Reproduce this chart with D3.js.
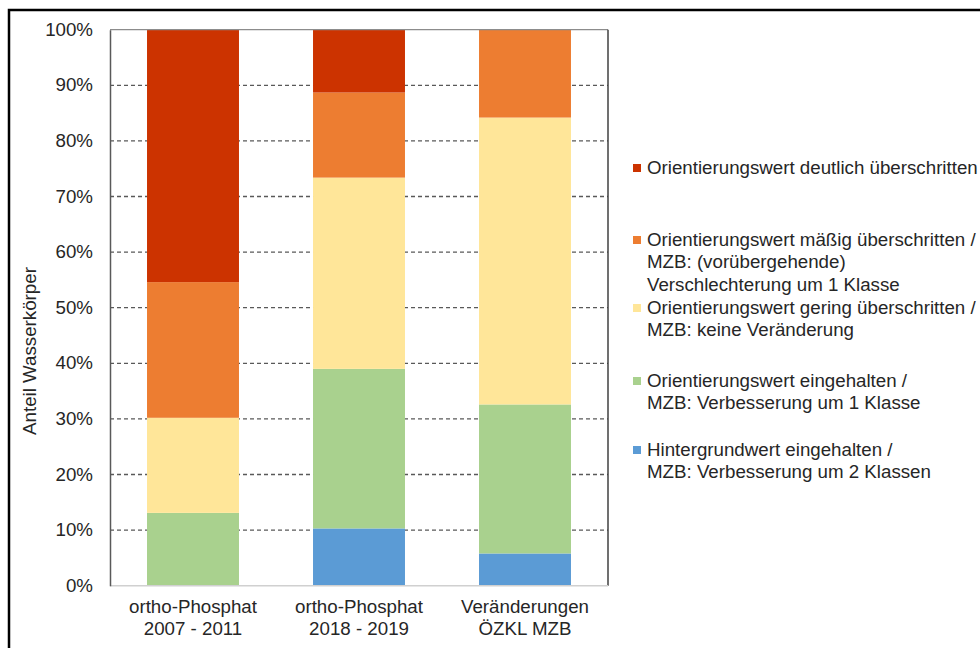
<!DOCTYPE html>
<html>
<head>
<meta charset="utf-8">
<script src="https://cdn.jsdelivr.net/npm/d3@7"></script>
<style>
  html, body { margin: 0; padding: 0; background: #fff; }
  svg { display: block; font-family: Arial, "Liberation Sans", sans-serif; }
</style>
</head>
<body>
<svg id="chart" width="980" height="648"></svg>
<script>
// Categories (two-line labels on the x axis)
const categories = [
  ["ortho-Phosphat", "2007 - 2011"],
  ["ortho-Phosphat", "2018 - 2019"],
  ["Veränderungen", "ÖZKL MZB"]
];

// Stack series, bottom to top, shares in percent per category
const seriesNames = [
  "Hintergrundwert eingehalten / MZB: Verbesserung um 2 Klassen",
  "Orientierungswert eingehalten / MZB: Verbesserung um 1 Klasse",
  "Orientierungswert gering überschritten / MZB: keine Veränderung",
  "Orientierungswert mäßig überschritten / MZB: (vorübergehende) Verschlechterung um 1 Klasse",
  "Orientierungswert deutlich überschritten"
];
const blau  = [0.0, 10.3, 5.8];
const gruen = [13.1, 28.7, 26.8];
const gelb  = [17.1, 34.4, 51.6];
const orange = [24.4, 15.3, 15.8];
const rot   = [45.4, 11.3, 0.0];
const seriesValues = [blau, gruen, gelb, orange, rot];
const seriesColors = ["#5b9bd5", "#a9d18e", "#ffe699", "#ed7d31", "#cc3300"];

// Legend entries, top to bottom, with their wrapped lines
const legendLines = [
  ["Orientierungswert deutlich überschritten"],
  ["Orientierungswert mäßig überschritten /", "MZB: (vorübergehende)", "Verschlechterung um 1 Klasse"],
  ["Orientierungswert gering überschritten /", "MZB: keine Veränderung"],
  ["Orientierungswert eingehalten /", "MZB: Verbesserung um 1 Klasse"],
  ["Hintergrundwert eingehalten /", "MZB: Verbesserung um 2 Klassen"]
];
const legendSeriesIndex = [4, 3, 2, 1, 0];
const legendTop = [168, 240, 308, 381, 450];

const yTicks = [0, 10, 20, 30, 40, 50, 60, 70, 80, 90, 100];

const svg = d3.select("#chart");
const textColor = "#262626";
const fontSize = "17.5px";
const widen = 1.07; // slightly wider glyphs than the stock sans

// outer frame
svg.append("rect")
  .attr("x", 9).attr("y", 10)
  .attr("width", 1000).attr("height", 700)
  .attr("fill", "none").attr("stroke", "#000").attr("stroke-width", 2.5);

const plot = { left: 110, right: 608, top: 29.7, bottom: 585.7 };

const x = d3.scaleBand()
  .domain(d3.range(categories.length))
  .range([plot.left, plot.right])
  .paddingInner(0.446)
  .paddingOuter(0.223);

const y = d3.scaleLinear().domain([0, 100]).range([plot.bottom, plot.top]);

// dashed gridlines
svg.append("g").selectAll("line")
  .data(yTicks.filter(t => t > 0 && t < 100))
  .join("line")
  .attr("x1", plot.left).attr("x2", plot.right)
  .attr("y1", d => y(d)).attr("y2", d => y(d))
  .attr("stroke", "#595959").attr("stroke-width", 1.3)
  .attr("stroke-dasharray", "4,3");

// stacked bars
const rows = categories.map((c, i) => {
  const r = { i };
  seriesValues.forEach((s, k) => { r["s" + k] = s[i]; });
  return r;
});
const stack = d3.stack().keys(seriesValues.map((s, k) => "s" + k));
const layers = stack(rows);

svg.append("g").selectAll("g")
  .data(layers)
  .join("g")
  .attr("fill", (d, k) => seriesColors[k])
  .selectAll("rect")
  .data(d => d.filter(p => p[1] - p[0] > 0))
  .join("rect")
  .attr("x", d => x(d.data.i))
  .attr("width", x.bandwidth())
  .attr("y", d => y(d[1]))
  .attr("height", d => y(d[0]) - y(d[1]));

// plot border
svg.append("line").attr("x1", plot.left).attr("x2", plot.right)
  .attr("y1", plot.top).attr("y2", plot.top)
  .attr("stroke", "#8c8c8c").attr("stroke-width", 1.2);
svg.append("line").attr("x1", plot.right).attr("x2", plot.right)
  .attr("y1", plot.top).attr("y2", plot.bottom)
  .attr("stroke", "#404040").attr("stroke-width", 1.5);
svg.append("line").attr("x1", plot.left).attr("x2", plot.right)
  .attr("y1", plot.bottom).attr("y2", plot.bottom)
  .attr("stroke", "#d0d0d0").attr("stroke-width", 1.5);

// y axis
const yAxis = svg.append("g")
  .attr("transform", `translate(${plot.left},0)`)
  .call(d3.axisLeft(y).tickValues(yTicks).tickFormat(d => d + "%").tickSize(0).tickPadding(17));
yAxis.select(".domain").attr("stroke", "#595959").attr("stroke-width", 1.5);
yAxis.selectAll(".tick text")
  .attr("fill", textColor).style("font-size", fontSize)
  .style("font-family", "Arial, 'Liberation Sans', sans-serif")
  .attr("transform", function() {
    const xx = +this.getAttribute("x");
    return `translate(${xx},0) scale(${widen},1) translate(${-xx},0)`;
  });

// y axis title
svg.append("text")
  .attr("transform", `translate(36,351) rotate(-90) scale(${widen},1)`)
  .attr("text-anchor", "middle")
  .attr("fill", textColor)
  .style("font-size", fontSize)
  .text("Anteil Wasserkörper");

// x axis labels
svg.append("g").selectAll("g")
  .data(categories)
  .join("g")
  .attr("transform", (d, i) => `translate(${x(i) + x.bandwidth() / 2},613) scale(${widen},1)`)
  .append("text")
  .attr("text-anchor", "middle")
  .attr("fill", textColor)
  .style("font-size", fontSize)
  .selectAll("tspan")
  .data(d => d)
  .join("tspan")
  .attr("x", 0)
  .attr("y", (d, j) => j * 22.5)
  .text(d => d);

// legend
const lg = svg.append("g").selectAll("g")
  .data(legendLines)
  .join("g")
  .attr("transform", (d, i) => `translate(0,${legendTop[i]})`);
lg.append("rect")
  .attr("x", 633).attr("y", -4)
  .attr("width", 8).attr("height", 8)
  .attr("fill", (d, i) => seriesColors[legendSeriesIndex[i]]);
lg.append("g")
  .attr("transform", `translate(647,0) scale(${widen},1)`)
  .append("text")
  .attr("fill", textColor)
  .style("font-size", fontSize)
  .selectAll("tspan")
  .data(d => d)
  .join("tspan")
  .attr("x", 0)
  .attr("y", (d, j) => 6 + j * 22.3)
  .text(d => d);
</script>
</body>
</html>
